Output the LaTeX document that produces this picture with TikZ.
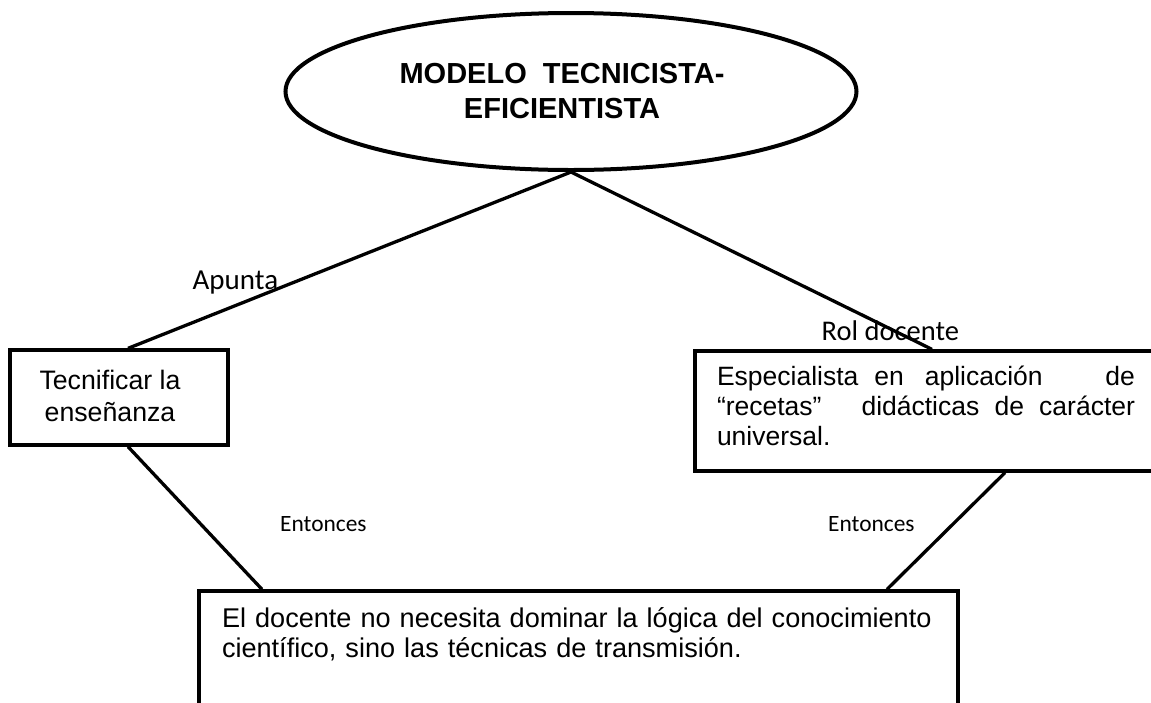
\documentclass[tikz,border=0pt]{standalone}
\usepackage{fontspec}
\setmainfont{Liberation Sans}
\newfontfamily\calib{Carlito}
\usetikzlibrary{shapes.geometric}
\begin{document}
\begin{tikzpicture}[x=1pt,y=-1pt,
  boxst/.style={draw, line width=3.3pt, rectangle, inner sep=0pt},
  link/.style={line width=3.3pt},
  lbl/.style={anchor=base west, inner sep=0pt, font=\calib\fontsize{#1}{#1}\selectfont}
]
\useasboundingbox (0,0) rectangle (1151,702);
\fill[white] (0,0) rectangle (1151,702);

\node[draw, ellipse, line width=4pt, minimum width=571pt, minimum height=157pt,
      inner sep=0pt, align=center,
      font=\bfseries\fontsize{29pt}{35pt}\selectfont] (m) at (571,91.5)
  {\hspace*{-18pt}MODELO\ \ TECNICISTA-\\\hspace*{-18pt}EFICIENTISTA};

\node[boxst, minimum width=218pt, minimum height=95pt, align=center,
      font=\fontsize{26.7pt}{32pt}\selectfont] (lb) at (119,397.5)
  {\hspace*{-18pt}Tecnificar la\\\hspace*{-18pt}enseñanza\rule[-4pt]{0pt}{4pt}};

\node[boxst, minimum width=490pt, minimum height=120pt, text width=446pt, align=left,
      font=\fontsize{26.5pt}{30pt}\selectfont] (rb) at (940,411)
  {\makebox[418pt][l]{Especialista\hspace{16pt}en\hspace{21pt}aplicación\hfill de}\\
   \makebox[418pt][l]{“recetas”\hspace{40pt}didácticas\hfill de\hfill carácter}\\
   universal.\rule[-10pt]{0pt}{10pt}};

\node[boxst, minimum width=759pt, minimum height=114pt, text width=713pt, align=left,
      font=\fontsize{27.1pt}{30pt}\selectfont] (bb) at (578.5,648)
  {El docente no necesita dominar la lógica del conocimiento\\
   científico, sino las técnicas de transmisión.\rule[-30pt]{0pt}{0pt}};

\draw[link] (m.south) -- ([xshift=-8pt]rb.north);
\draw[link] (m.south) -- ([xshift=9pt]lb.north);
\draw[link] ([xshift=9pt]lb.south) -- ([xshift=-316.5pt]bb.north);
\draw[link] ([xshift=65pt]rb.south) -- ([xshift=308.5pt]bb.north);

\node[lbl=29pt] (apunta) at (192.5,289) {Apunta};
\node[lbl=28.5pt] (rol) at (821.5,340.7) {Rol docente};
\node[lbl=23.4pt] (ent1) at (280,531) {Entonces};
\node[lbl=23.4pt] (ent2) at (828,531) {Entonces};
\end{tikzpicture}
\end{document}
